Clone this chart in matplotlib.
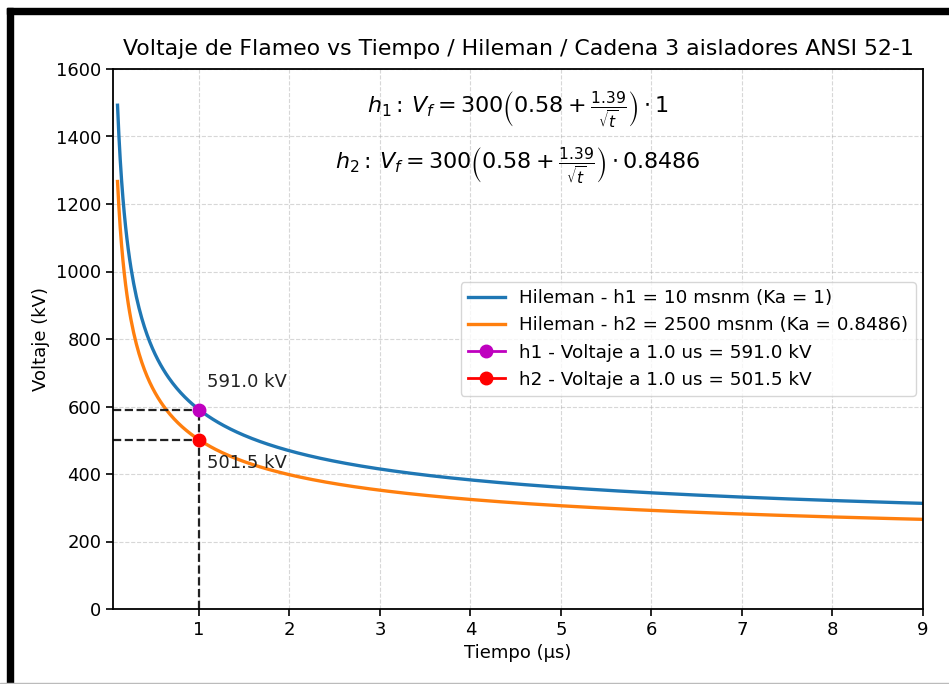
import numpy as np
import matplotlib
matplotlib.use("Agg")
import matplotlib.pyplot as plt
from matplotlib.patches import Rectangle

# Parámetros de Hileman
v_base = 300
coef_a = 0.58
coef_b = 1.39
ka_values = [1, 0.8486]
alturas = [10, 2500]
nombres = ["h1", "h2"]
colores = ["#1f77b4", "#ff7f0e"]

# Puntos evaluados a t = 1.0 us
t_eval = 1.0
v_eval = [591.0, 501.5]
colores_punto = ["m", "r"]

t = np.linspace(0.1, 9, 600)

fig = plt.figure(figsize=(9.49, 6.84), dpi=100)
ax = fig.add_axes([113 / 949, 1 - 609 / 684, 810 / 949, 540 / 684])

for nombre, h, ka, color in zip(nombres, alturas, ka_values, colores):
    vf = v_base * (coef_a + coef_b / np.sqrt(t)) * ka
    ax.plot(t, vf, color=color, lw=2.4,
            label=f"Hileman - {nombre} = {h} msnm (Ka = {ka})")

for nombre, v, c in zip(nombres, v_eval, colores_punto):
    ax.plot([0.05, t_eval], [v, v], "--", color="#222222", lw=1.6)
ax.plot([t_eval, t_eval], [0, max(v_eval)], "--", color="#222222", lw=1.6)

offsets = [(6, 20), (6, -17)]
for nombre, v, c, off in zip(nombres, v_eval, colores_punto, offsets):
    ax.plot(t_eval, v, marker="o", color=c, ms=9, lw=2, zorder=5,
            label=f"{nombre} - Voltaje a {t_eval} us = {v} kV")
    ax.annotate(f"{v} kV", (t_eval, v), xytext=off, textcoords="offset points",
                fontsize=13, va="center", color="#222222")

ax.text(0.5, 0.924, r"$h_1:\, V_f = 300\left(0.58 + \frac{1.39}{\sqrt{t}}\right) \cdot 1$",
        transform=ax.transAxes, ha="center", va="center", fontsize=16)
ax.text(0.5, 0.822, r"$h_2:\, V_f = 300\left(0.58 + \frac{1.39}{\sqrt{t}}\right) \cdot 0.8486$",
        transform=ax.transAxes, ha="center", va="center", fontsize=16)

ax.set_xlim(0.05, 9)
ax.set_ylim(0, 1600)
ax.set_xticks(range(1, 10))
ax.set_yticks(range(0, 1601, 200))
ax.tick_params(labelsize=13, length=5, width=1.2)
for s in ax.spines.values():
    s.set_linewidth(1.3)
ax.grid(True, linestyle="--", alpha=0.5)
ax.set_title("Voltaje de Flameo vs Tiempo / Hileman / Cadena 3 aisladores ANSI 52-1",
             fontsize=15.8, pad=10)
ax.set_xlabel("Tiempo (µs)", fontsize=13)
ax.set_ylabel("Voltaje (kV)", fontsize=13)
ax.legend(loc="center right", fontsize=13.2, borderaxespad=0.4)

# Marco negro superior e izquierdo
fig.patches.append(Rectangle((7 / 949, 1 - 14 / 684), 1, 6 / 684,
                             transform=fig.transFigure, color="black", zorder=10))
fig.patches.append(Rectangle((7 / 949, 0), 6 / 949, 1 - 8 / 684,
                             transform=fig.transFigure, color="black", zorder=10))
fig.patches.append(Rectangle((0, 0), 1, 1.5 / 684,
                             transform=fig.transFigure, color="#bbbbbb", zorder=10))

fig.savefig("out.png", dpi=100)
